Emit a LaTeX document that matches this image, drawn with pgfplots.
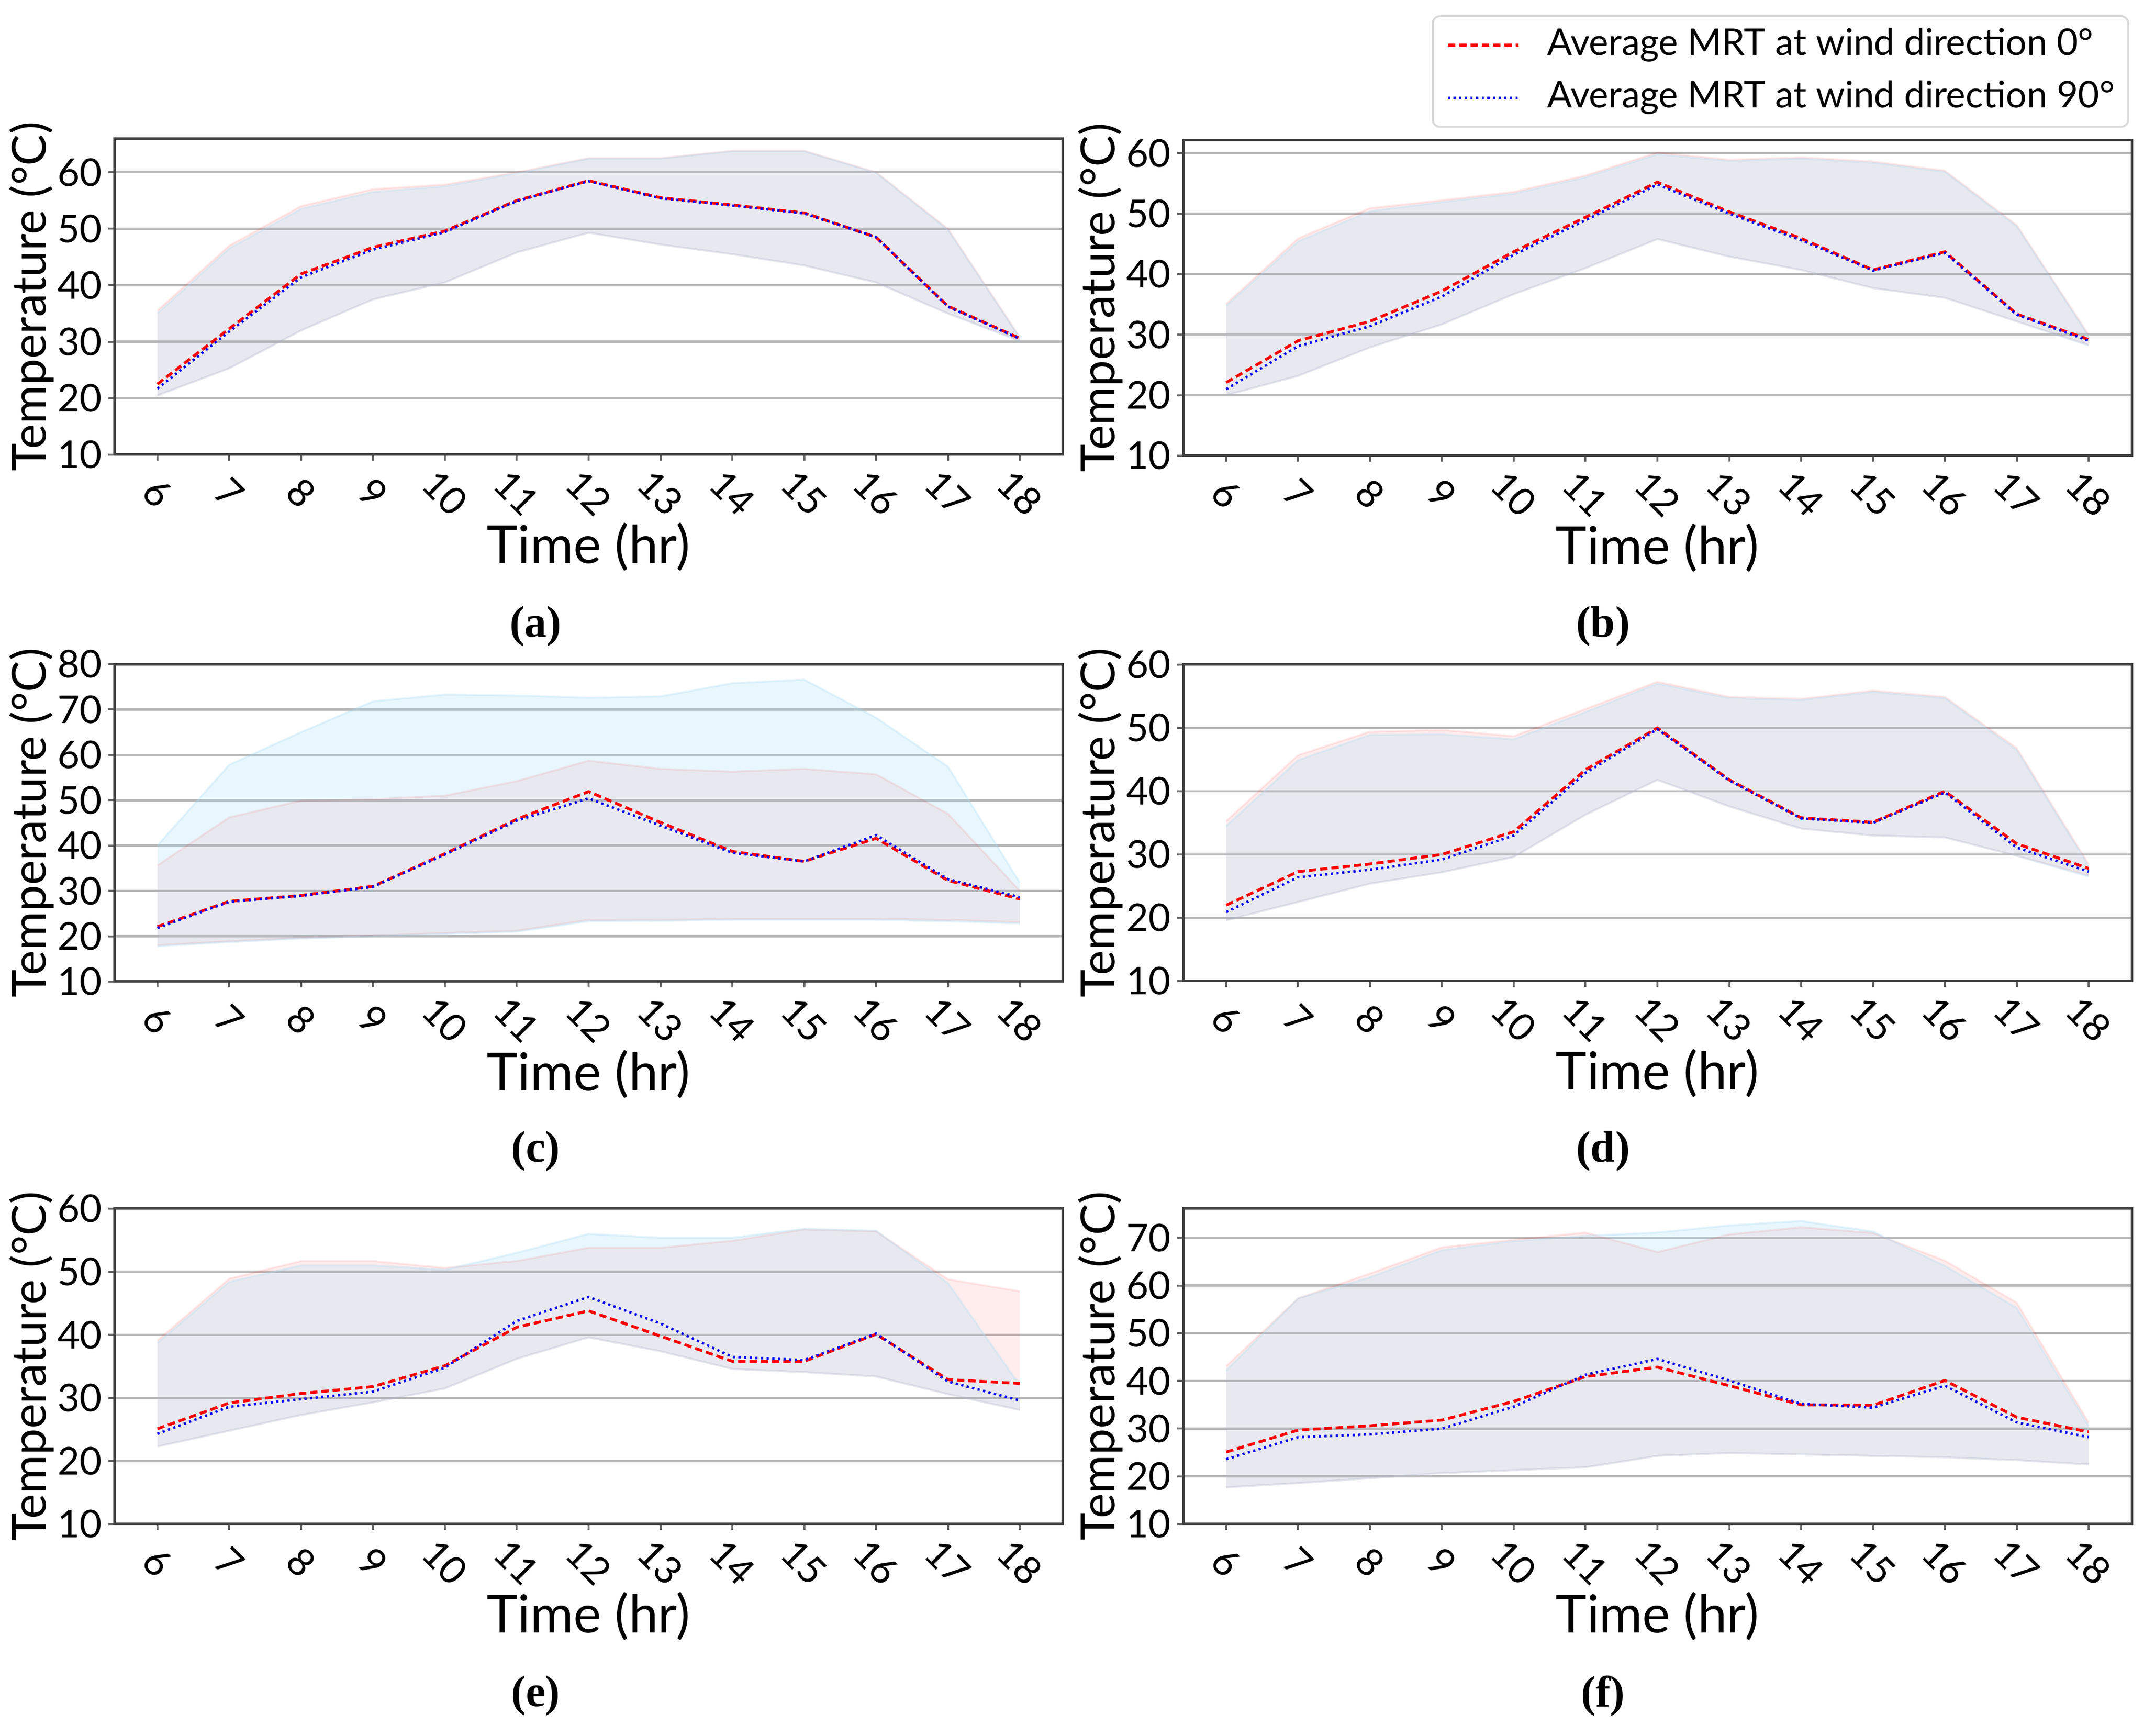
\documentclass[border=0pt]{standalone}
\usepackage{fontspec}
\setmainfont{Lato}
\newfontfamily\capfont{Liberation Serif}
\usepackage{pgfplots}
\pgfplotsset{compat=1.18}
\usepackage{pgfplotstable}
\usepgfplotslibrary{fillbetween}

\definecolor{bfill}{RGB}{168,220,246}
\newcommand\ticklbl{\fontsize{7.8}{9}\selectfont}
\newcommand\xlbl{\fontsize{10.7}{12}\selectfont}
\newcommand\ylbl{\fontsize{9.6}{11}\selectfont}
\newcommand\legfont{\fontsize{7.5}{9}\selectfont}
\newcommand\capf{\capfont\bfseries\fontsize{9}{10}\selectfont}

% columns: x, mean 0deg, mean 90deg, min/max 0deg, min/max 90deg
\pgfplotstableread{
x r b rlo rhi blo bhi
6 22.5 21.7 20.5 35.5 20.5 35.0
7 32.3 31.8 25.3 47.0 25.3 46.5
8 42.0 41.4 32.0 54.0 32.0 53.5
9 46.7 46.3 37.5 57.0 37.5 56.5
10 49.6 49.4 40.5 57.8 40.5 57.5
11 55.0 54.9 45.8 60.0 45.8 59.8
12 58.5 58.4 49.3 62.5 49.3 62.4
13 55.5 55.4 47.2 62.5 47.2 62.4
14 54.2 54.1 45.5 63.8 45.5 63.7
15 52.8 52.7 43.5 63.8 43.5 63.7
16 48.5 48.5 40.5 60.0 40.5 59.9
17 36.3 36.2 35.0 50.0 35.0 49.8
18 30.6 30.5 30.2 30.8 30.1 30.7
}\ta
\pgfplotstableread{
x r b rlo rhi blo bhi
6 22.1 21.0 20.0 35.1 20.0 34.8
7 29.0 28.1 23.2 45.9 23.2 45.4
8 32.2 31.4 27.9 50.9 27.9 50.4
9 37.2 36.3 31.7 52.2 31.7 51.9
10 43.7 43.2 36.7 53.6 36.7 53.3
11 49.4 48.9 41.0 56.3 41.0 56.0
12 55.2 54.8 45.8 60.1 45.8 59.8
13 50.3 50.0 42.9 58.9 42.9 58.7
14 45.9 45.6 40.7 59.3 40.7 59.1
15 40.7 40.6 37.7 58.6 37.7 58.4
16 43.7 43.5 36.1 57.1 36.1 56.9
17 33.4 33.3 32.2 48.1 32.2 47.9
18 29.2 29.0 28.3 30.0 28.2 29.8
}\tb
\pgfplotstableread{
x r b rlo rhi blo bhi
6 22.1 21.8 18.0 35.6 17.8 40.0
7 27.7 27.6 18.9 46.2 18.7 57.8
8 29.0 28.9 19.6 49.9 19.5 65.0
9 31.0 30.9 20.1 50.2 20.0 71.8
10 38.2 38.0 20.7 51.0 20.5 73.3
11 45.8 45.5 21.2 54.2 21.0 73.1
12 51.9 50.4 23.6 58.7 23.3 72.6
13 45.1 44.4 23.6 56.9 23.4 72.9
14 38.7 38.4 23.8 56.3 23.6 75.8
15 36.5 36.5 23.8 56.9 23.6 76.6
16 41.6 42.3 23.8 55.7 23.6 68.2
17 32.3 32.6 23.6 47.0 23.3 57.4
18 28.2 28.6 23.1 30.0 22.8 31.8
}\tc
\pgfplotstableread{
x r b rlo rhi blo bhi
6 22.0 20.9 19.6 35.3 19.6 34.5
7 27.3 26.4 22.5 45.7 22.5 44.9
8 28.5 27.6 25.4 49.4 25.4 48.9
9 30.0 29.2 27.2 49.7 27.2 49.0
10 33.6 33.0 29.6 48.7 29.6 48.2
11 43.4 42.9 36.3 53.0 36.3 52.5
12 50.0 49.8 41.8 57.3 41.8 57.0
13 41.8 41.7 37.6 54.9 37.6 54.7
14 35.8 35.7 34.1 54.6 34.1 54.4
15 35.1 35.0 33.0 55.9 33.0 55.7
16 40.0 39.8 32.7 54.9 32.7 54.7
17 31.7 31.1 29.8 46.8 29.8 46.5
18 27.8 27.3 26.7 28.5 26.5 28.2
}\td
\pgfplotstableread{
x r b rlo rhi blo bhi
6 25.1 24.3 22.3 39.1 22.3 38.7
7 29.2 28.6 24.8 48.9 24.8 48.4
8 30.7 29.8 27.3 51.7 27.3 51.0
9 31.8 31.0 29.3 51.7 29.3 51.0
10 35.1 34.8 31.5 50.6 31.5 50.3
11 41.2 42.2 36.2 51.7 36.2 53.0
12 43.8 46.0 39.6 53.8 39.6 56.0
13 39.8 41.8 37.4 53.8 37.4 55.4
14 35.8 36.5 34.6 54.9 34.6 55.4
15 35.8 36.0 34.1 56.7 34.1 56.8
16 40.1 40.2 33.4 56.4 33.4 56.5
17 32.9 32.6 30.6 48.8 30.6 48.2
18 32.3 29.6 28.1 46.9 28.1 32.0
}\te
\pgfplotstableread{
x r b rlo rhi blo bhi
6 25.1 23.6 17.7 43.1 17.7 42.2
7 29.7 28.2 18.6 57.3 18.6 57.3
8 30.6 28.8 19.6 62.5 19.6 61.7
9 31.8 30.0 20.7 68.0 20.7 67.4
10 35.7 34.6 21.3 69.6 21.3 69.3
11 40.9 41.3 21.9 71.1 21.9 70.4
12 42.9 44.6 24.3 67.0 24.3 71.1
13 39.0 40.1 24.9 70.7 24.9 72.6
14 35.0 35.2 24.6 72.2 24.6 73.5
15 34.9 34.4 24.3 71.0 24.3 71.3
16 40.1 39.0 24.0 65.2 24.0 64.1
17 32.4 31.3 23.4 56.4 23.4 55.3
18 29.3 28.2 22.5 31.3 22.5 30.6
}\tf

\pgfplotsset{
  mrt0/.style={red, line width=0.58pt, dash pattern=on 1.5pt off 0.8pt},
  mrt90/.style={blue, line width=0.5pt, dash pattern=on 0.45pt off 0.7pt},
  panel/.style={
    scale only axis, width=193.4pt,
    xmin=5.4, xmax=18.6, ymin=10,
    xtick={6,7,...,18},
    axis line style={black!75, line width=0.5pt},
    tick align=outside, tick pos=left,
    major tick length=1.2pt,
    tick style={black!60, line width=0.4pt},
    ymajorgrids, grid style={black!28, line width=0.45pt},
    /pgf/number format/assume math mode=true,
    xticklabel style={font=\ticklbl, rotate=-45, anchor=center, inner sep=0pt},
    xticklabel shift=6.6pt,
    yticklabel style={font=\ticklbl, anchor=east, inner sep=0pt},
    yticklabel shift=1.1pt,
    xlabel={Time (hr)}, ylabel={Temperature (°C)},
    xlabel style={font=\xlbl, at={(axis description cs:0.5,-0.292)}, anchor=center},
    ylabel style={font=\ylbl, at={(axis description cs:-0.0869,0.5)}, anchor=center},
  },
}

\newcommand\drawpanel[1]{%
  \addplot[forget plot, name path=rhi, draw=red, draw opacity=0.08, line width=0.4pt] table[x=x,y=rhi]{#1};
  \addplot[forget plot, name path=rlo, draw=red, draw opacity=0.08, line width=0.4pt] table[x=x,y=rlo]{#1};
  \addplot[forget plot, fill=red, fill opacity=0.07] fill between[of=rhi and rlo];
  \addplot[forget plot, name path=bhi, draw=bfill, draw opacity=0.3, line width=0.4pt] table[x=x,y=bhi]{#1};
  \addplot[forget plot, name path=blo, draw=bfill, draw opacity=0.3, line width=0.4pt] table[x=x,y=blo]{#1};
  \addplot[forget plot, fill=bfill, fill opacity=0.26] fill between[of=bhi and blo];
  \addplot[mrt0] table[x=x,y=r]{#1};
  \addplot[mrt90] table[x=x,y=b]{#1};
}

\begin{document}
\begin{tikzpicture}
% (a)
\begin{axis}[panel, height=64.5pt, at={(23.3pt,261.2pt)}, anchor=south west,
  ymax=66.0, ytick={10,20,...,60}]
  \drawpanel{\ta}
\end{axis}
% (b)
\begin{axis}[panel, height=64.4pt, at={(241.2pt,261.0pt)}, anchor=south west,
  ymax=62.2, ytick={10,20,...,60},
  legend style={at={(axis description cs:1,1)}, anchor=north east,
    xshift=-0.5pt, yshift=25.4pt, draw=black!15, rounded corners=1.5pt,
    fill=white, font=\legfont, inner xsep=2.8pt, inner ysep=0.9pt,
    row sep=0.7pt, nodes={inner xsep=0pt, inner ysep=1.5pt},
    /tikz/every odd column/.append style={column sep=5.6pt}},
  legend cell align=left,
  legend image code/.code={\draw[#1] (0pt,0pt) -- (14.4pt,0pt);}]
  \drawpanel{\tb}
  \addlegendentry{Average MRT at wind direction 0°}
  \addlegendentry{Average MRT at wind direction 90°}
\end{axis}
% (c)
\begin{axis}[panel, height=64.7pt, at={(23.3pt,153.8pt)}, anchor=south west,
  ymax=80.0, ytick={10,20,...,80}]
  \drawpanel{\tc}
\end{axis}
% (d)
\begin{axis}[panel, height=64.5pt, at={(241.2pt,153.9pt)}, anchor=south west,
  ymax=60.0, ytick={10,20,...,60}]
  \drawpanel{\td}
\end{axis}
% (e)
\begin{axis}[panel, height=64.3pt, at={(23.3pt,43.2pt)}, anchor=south west,
  ymax=60.0, ytick={10,20,...,60}]
  \drawpanel{\te}
\end{axis}
% (f)
\begin{axis}[panel, height=64.4pt, at={(241.2pt,43.2pt)}, anchor=south west,
  ymax=76.2, ytick={10,20,...,70}]
  \drawpanel{\tf}
\end{axis}

\node[font=\capf] at (109.2pt,226.2pt) {(a)};
\node[font=\capf] at (326.8pt,226.2pt) {(b)};
\node[font=\capf] at (109.2pt,119.2pt) {(c)};
\node[font=\capf] at (326.8pt,119.2pt) {(d)};
\node[font=\capf] at (109.2pt,8.2pt) {(e)};
\node[font=\capf] at (326.8pt,8.2pt) {(f)};

\pgfresetboundingbox
\path[use as bounding box] (0,0) rectangle (437.1pt,353.9pt);
\end{tikzpicture}
\end{document}
